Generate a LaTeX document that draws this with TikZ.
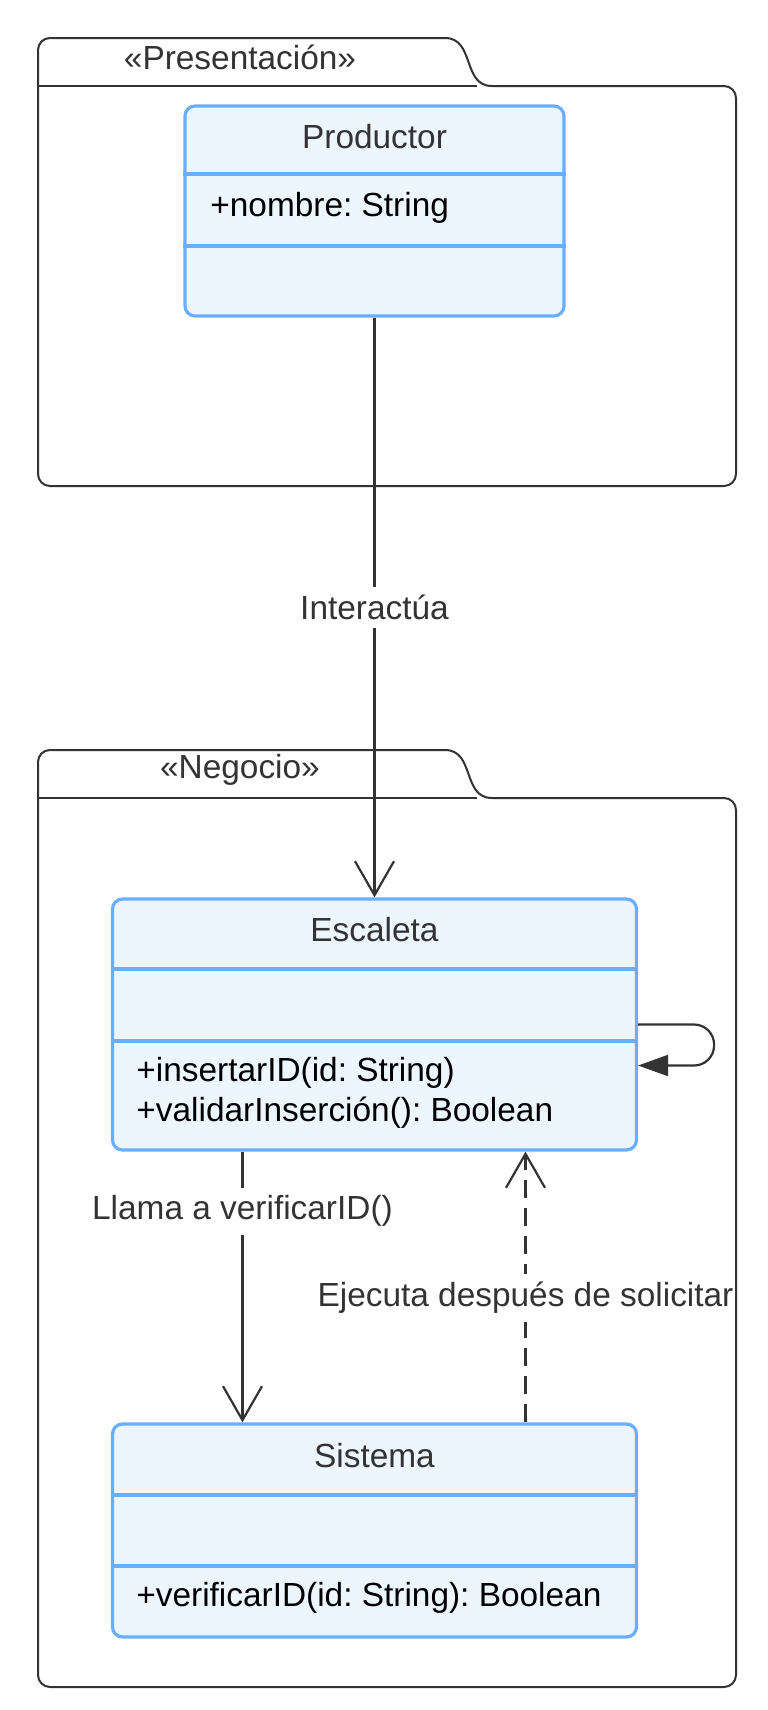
\documentclass[tikz,border=0pt]{standalone}
\usepackage{fontspec}
\setmainfont{Liberation Sans}
\frenchspacing
\usetikzlibrary{arrows.meta}
\definecolor{umlblue}{HTML}{6AAFFF}
\definecolor{umlfill}{HTML}{EDF5FF}
\definecolor{inkgray}{HTML}{333333}

\begin{document}
\begin{tikzpicture}[x=0.5pt, y=-0.5pt,
    every node/.style={font=\fontsize{16.7}{20}\selectfont, inner sep=0pt},
    pkgline/.style={draw=inkgray, line width=1pt},
    classbox/.style={draw=umlblue, fill=umlfill, line width=1.6pt, rounded corners=5pt},
    divider/.style={draw=umlblue, line width=1.6pt},
    title/.style={text=inkgray},
    member/.style={text=black, anchor=west},
    assoc/.style={draw=inkgray, line width=1.1pt, -{Straight Barb[length=17pt, width=19.5pt]}},
    selfcall/.style={draw=inkgray, line width=1.1pt, rounded corners=10pt, -{Triangle[length=15pt, width=10.5pt]}},
    lbl/.style={fill=white, text=inkgray, inner xsep=0.5pt, inner ysep=4pt}]
  \fill[white] (0,0) rectangle (767,1710);
  % packages
  \draw[pkgline, rounded corners=6pt] (445,38) -- (38,38) -- (38,486) -- (736,486) -- (736,86) -- (492,86);
  \draw[pkgline] (445,38) .. controls (475,38) and (462,86) .. (492,86);
  \draw[pkgline] (38,86) -- (477,86);
  \node[title] (presentacion) at (240,57) {«Presentación»};
  \draw[pkgline, rounded corners=6pt] (445,750) -- (38,750) -- (38,1687) -- (736,1687) -- (736,798) -- (492,798);
  \draw[pkgline] (445,750) .. controls (475,750) and (462,798) .. (492,798);
  \draw[pkgline] (38,798) -- (477,798);
  \node[title] (negocio) at (240,770) {«Negocio»};
  % classes
  \node[classbox, minimum width=189.5pt, minimum height=105pt] (productor) at (374.5,211) {};
  \draw[divider] (productor.west |- 0,174) -- (productor.east |- 0,174);
  \draw[divider] (productor.west |- 0,246) -- (productor.east |- 0,246);
  \node[title] (productorname) at (374.5,137) {Productor};
  \node[member] (nombre) at (210,208) {+nombre: String};

  \node[classbox, minimum width=262pt, minimum height=125.5pt] (escaleta) at (374.5,1024.5) {};
  \draw[divider] (escaleta.west |- 0,969) -- (escaleta.east |- 0,969);
  \draw[divider] (escaleta.west |- 0,1041) -- (escaleta.east |- 0,1041);
  \node[title] (escaletaname) at (374.5,930) {Escaleta};
  \node[member] (insertar) at (136,1073) {+insertarID(id: String)};
  \node[member] (validar) at (136,1113) {+validarInserción(): Boolean};

  \node[classbox, minimum width=262pt, minimum height=106.5pt] (sistema) at (374.5,1530.5) {};
  \draw[divider] (sistema.west |- 0,1495) -- (sistema.east |- 0,1495);
  \draw[divider] (sistema.west |- 0,1566) -- (sistema.east |- 0,1566);
  \node[title] (sistemaname) at (374.5,1456) {Sistema};
  \node[member] (verificar) at (136,1598) {+verificarID(id: String): Boolean};
  % relations
  \draw[assoc] (productor.south) -- (productor.south |- escaleta.north) node[lbl, midway] {Interactúa};
  \draw[assoc] ([xshift=-66pt]escaleta.south) -- ([xshift=-66pt]sistema.north) node[lbl, pos=0.22] {Llama a verificarID()};
  \draw[assoc, dash pattern=on 9pt off 5pt] ([xshift=75.5pt]sistema.north) -- ([xshift=75.5pt]escaleta.south) node[lbl, pos=0.46] {Ejecuta después de solicitar};
  \draw[selfcall] (escaleta.east) -- ++(76,0) -- ++(0,41) -- ([yshift=-20.5pt]escaleta.east);
\end{tikzpicture}
\end{document}
